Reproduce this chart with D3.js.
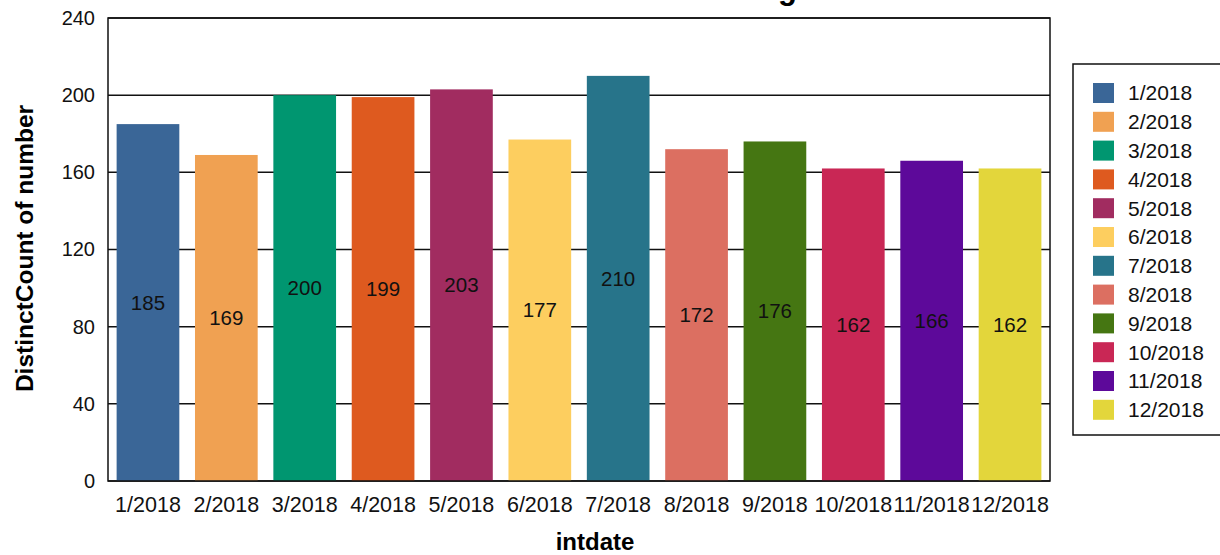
<!DOCTYPE html>
<html>
<head>
<meta charset="utf-8">
<script src="https://cdn.jsdelivr.net/npm/d3@7"></script>
<style>
  html, body { margin: 0; padding: 0; background: #fff; }
  svg { display: block; font-family: "Liberation Sans", Arial, sans-serif; }
</style>
</head>
<body>
<svg id="chart" width="1220" height="555"></svg>
<script>
// Monthly distinct counts for 2018
const categories = ["1/2018","2/2018","3/2018","4/2018","5/2018","6/2018",
                    "7/2018","8/2018","9/2018","10/2018","11/2018","12/2018"];
const counts = [185, 169, 200, 199, 203, 177, 210, 172, 176, 162, 166, 162];
const barColors = ["#3A6697","#F0A152","#009670","#DE5A1F","#A12C60","#FDCE5F",
                   "#27748A","#DC6F61","#457612","#C92755","#5D099A","#E3D63B"];
const yTicks = [0, 40, 80, 120, 160, 200, 240];

const svg = d3.select("#chart");
const plot = { left: 108, right: 1050, top: 18, bottom: 481 };
const FONT = "'Liberation Sans', Arial, sans-serif";

const x = d3.scaleBand()
  .domain(categories)
  .range([plot.left, plot.right])
  .paddingInner(0.2)
  .paddingOuter(0.11);

const y = d3.scaleLinear()
  .domain([0, 240])
  .range([plot.bottom, plot.top]);

const color = d3.scaleOrdinal().domain(categories).range(barColors);

// title (mostly above the visible area)
svg.append("text")
  .attr("x", 797)
  .attr("y", -1)
  .attr("text-anchor", "end")
  .attr("font-size", 31)
  .attr("font-weight", "bold")
  .text("DistinctCount of number Trending");

// horizontal grid lines
svg.append("g")
  .selectAll("line")
  .data(yTicks)
  .join("line")
  .attr("x1", plot.left)
  .attr("x2", plot.right)
  .attr("y1", d => y(d))
  .attr("y2", d => y(d))
  .attr("stroke", "#111")
  .attr("stroke-width", 1.5);

// bars
svg.append("g")
  .selectAll("rect")
  .data(categories)
  .join("rect")
  .attr("x", d => x(d))
  .attr("width", x.bandwidth())
  .attr("y", (d, i) => y(counts[i]))
  .attr("height", (d, i) => y(0) - y(counts[i]))
  .attr("fill", d => color(d));

// value labels at the middle of each bar
svg.append("g")
  .selectAll("text")
  .data(categories)
  .join("text")
  .attr("x", d => x(d) + x.bandwidth() / 2)
  .attr("y", (d, i) => (y(counts[i]) + y(0)) / 2)
  .attr("dy", "0.35em")
  .attr("text-anchor", "middle")
  .attr("font-size", 20.5)
  .attr("fill", "#111")
  .text((d, i) => counts[i]);

// frame
svg.append("rect")
  .attr("x", plot.left)
  .attr("y", plot.top)
  .attr("width", plot.right - plot.left)
  .attr("height", plot.bottom - plot.top)
  .attr("fill", "none")
  .attr("stroke", "#111")
  .attr("stroke-width", 1.5);

// y axis labels
const yAxis = d3.axisLeft(y).tickValues(yTicks).tickSize(0).tickPadding(13);
const gy = svg.append("g").attr("transform", `translate(${plot.left},0)`).call(yAxis);
gy.select(".domain").remove();
gy.selectAll("text").attr("font-size", 20).attr("fill", "#111").style("font-family", FONT);

// x axis labels
const xAxis = d3.axisBottom(x).tickSize(0).tickPadding(16);
const gx = svg.append("g").attr("transform", `translate(0,${plot.bottom})`).call(xAxis);
gx.select(".domain").remove();
gx.selectAll("text").attr("font-size", 21.5).attr("fill", "#111").style("font-family", FONT);

// axis titles
svg.append("text")
  .attr("x", 595)
  .attr("y", 550)
  .attr("text-anchor", "middle")
  .attr("font-size", 24)
  .attr("font-weight", "bold")
  .text("intdate");

svg.append("text")
  .attr("transform", `translate(33,${(plot.top + plot.bottom) / 2 - 1}) rotate(-90)`)
  .attr("text-anchor", "middle")
  .attr("font-size", 24.5)
  .attr("font-weight", "bold")
  .text("DistinctCount of number");

// legend
const legend = svg.append("g");
legend.append("rect")
  .attr("x", 1073)
  .attr("y", 64)
  .attr("width", 160)
  .attr("height", 371)
  .attr("fill", "#fff")
  .attr("stroke", "#111")
  .attr("stroke-width", 1.5);

const items = legend.selectAll("g.item")
  .data(categories)
  .join("g")
  .attr("class", "item")
  .attr("transform", (d, i) => `translate(1093,${83 + i * 28.8})`);

items.append("rect")
  .attr("width", 21)
  .attr("height", 20)
  .attr("fill", d => color(d));

items.append("text")
  .attr("x", 35)
  .attr("y", 10)
  .attr("dy", "0.35em")
  .attr("font-size", 21)
  .attr("fill", "#111")
  .text(d => d);
</script>
</body>
</html>
